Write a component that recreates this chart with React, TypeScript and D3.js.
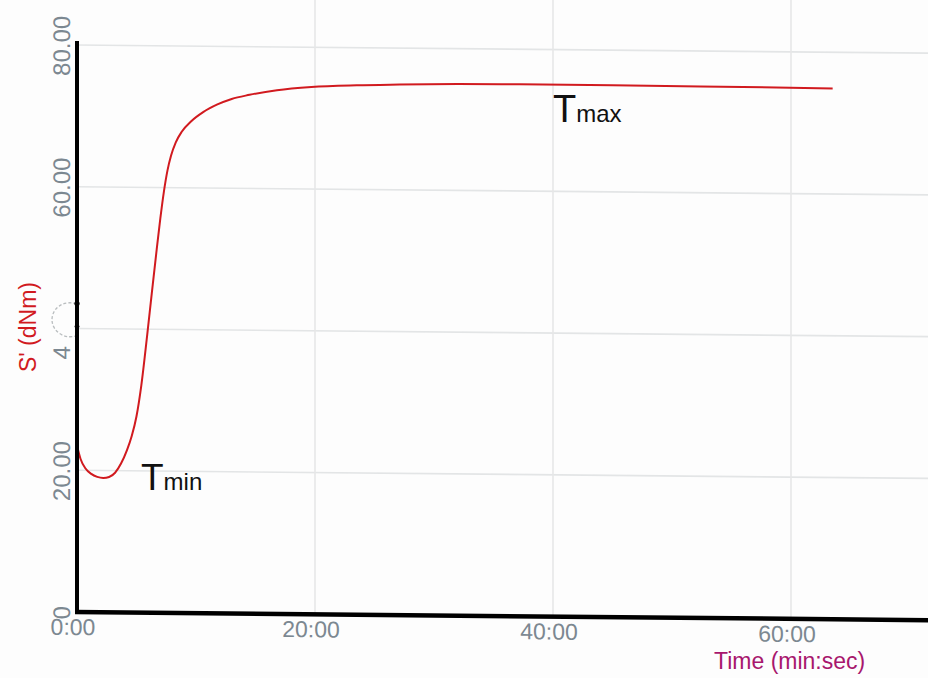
import React from "react";
import * as d3 from "d3";

// Rheometer cure curve: torque S' (dNm) against time (min)
const timeMin = [
  0, 0.3, 0.7, 1.2, 1.7, 2.2, 2.7, 3.2, 3.7, 4.2, 4.6, 5.0, 5.4, 5.9, 6.3, 6.7, 7.0, 7.3, 7.6, 7.9,
  8.3, 8.8, 9.6, 10.6, 11.8, 13.0, 14.5, 16.8, 19.7, 23.5, 27.1, 32.0, 37.2, 45.0, 52.4, 63.5,
];
const torque = [
  23.5, 21.6, 20.3, 19.5, 19.1, 18.95, 19.1, 19.7, 21.0, 22.9, 24.9, 27.7, 32.0, 39.2, 45.3, 51.3, 55.6, 59.4, 62.4, 64.5,
  66.4, 67.9, 69.4, 70.7, 71.8, 72.6, 73.2, 73.9, 74.4, 74.7, 74.85, 75.0, 75.05, 75.05, 75.0, 74.9,
];

const yTicks = [0, 20, 40, 60, 80];
const yTickLabels = ["0", "20.00", "40.00", "60.00", "80.00"];
const xTicks = [0, 20, 40, 60];
const xTickLabels = ["0:00", "20:00", "40:00", "60:00"];

const W = 928;
const H = 678;
const FONT = "'Liberation Sans', Arial, sans-serif";

export default function App() {
  const x = d3.scaleLinear().domain([0, 60]).range([77, 791]);
  const y = d3.scaleLinear().domain([0, 80]).range([612, 45]);
  const x0 = x(0);
  const y0 = y(0);

  const pts: [number, number][] = timeMin.map((t, i) => [t, torque[i]]);
  const curve = d3
    .line<[number, number]>()
    .x((d) => x(d[0]))
    .y((d) => y(d[1]))
    .curve(d3.curveMonotoneX)(pts);
  const rise = d3
    .line<[number, number]>()
    .x((d) => x(d[0]))
    .y((d) => y(d[1]))([
    [0, 0],
    [0, torque[0]],
  ]);

  const skew = `translate(${x0},${y0}) skewY(0.55) translate(${-x0},${-y0})`;
  const red = "#d11a1f";
  const tickGrey = "#7c8891";

  return (
    <svg
      width={W}
      height={H}
      style={{ position: "absolute", left: 0, top: 0, background: "#fdfdfd" }}
      fontFamily={FONT}
    >
      <rect x={0} y={0} width={W} height={H} fill="#fdfdfd" />
      <g transform={skew}>
        {/* grid */}
        {yTicks.slice(1).map((v) => (
          <line key={"gy" + v} x1={x0} x2={W + 20} y1={y(v)} y2={y(v)} stroke="#e3e5e6" strokeWidth={1.6} />
        ))}
        {xTicks.slice(1).map((v) => (
          <line key={"gx" + v} x1={x(v)} x2={x(v)} y1={y0} y2={-10} stroke="#e6e7e8" strokeWidth={1.6} />
        ))}

        {/* x tick labels */}
        {xTicks.map((v, i) => (
          <text key={"xt" + v} x={x(v) - 4} y={y0 + 23} fontSize={23} fill={tickGrey} textAnchor="middle">
            {xTickLabels[i]}
          </text>
        ))}

        {/* y tick labels */}
        {yTicks.map((v, i) => (
          <text
            key={"yt" + v}
            transform={`translate(70,${y(v) + 1}) rotate(-90)`}
            fontSize={24}
            fill={tickGrey}
            textAnchor="middle"
          >
            {yTickLabels[i]}
          </text>
        ))}

        {/* smudge over the 40 label */}
        <rect x={38} y={294} width={38} height={52} rx={12} fill="#fdfdfd" />
        <path
          d={`M ${x0} ${y(40) + 7} A 18 17 0 1 1 ${x0 - 2} ${y(40) - 25}`}
          fill="none"
          stroke="#b9bdbf"
          strokeWidth={1.3}
          strokeDasharray="3 2"
        />

        {/* cure curve */}
        <path d={rise ?? ""} fill="none" stroke={red} strokeWidth={2.2} />
        <path d={curve ?? ""} fill="none" stroke={red} strokeWidth={2} strokeLinejoin="round" />

        {/* axes */}
        <line x1={x0} x2={x0} y1={y0 + 2} y2={y(80) - 4} stroke="#000" strokeWidth={4} />
        <line x1={x0 - 2} x2={W + 20} y1={y0} y2={y0} stroke="#000" strokeWidth={4.5} />
        <circle cx={x0} cy={y(40) - 25} r={2.6} fill="#000" />
        <circle cx={x0} cy={y(40) - 2} r={2.4} fill="#000" />
      </g>

      {/* axis titles */}
      <text transform="translate(36,327) rotate(-90)" fontSize={23} fill={red} textAnchor="middle">
        S' (dNm)
      </text>
      <text x={714} y={669} fontSize={23} fill="#a8176d">
        Time (min:sec)
      </text>

      {/* annotations */}
      <text x={141} y={490} fill="#111">
        <tspan fontSize={37}>T</tspan>
        <tspan fontSize={24}>min</tspan>
      </text>
      <text x={553} y={122} fill="#111">
        <tspan fontSize={38}>T</tspan>
        <tspan fontSize={24}>max</tspan>
      </text>
    </svg>
  );
}
